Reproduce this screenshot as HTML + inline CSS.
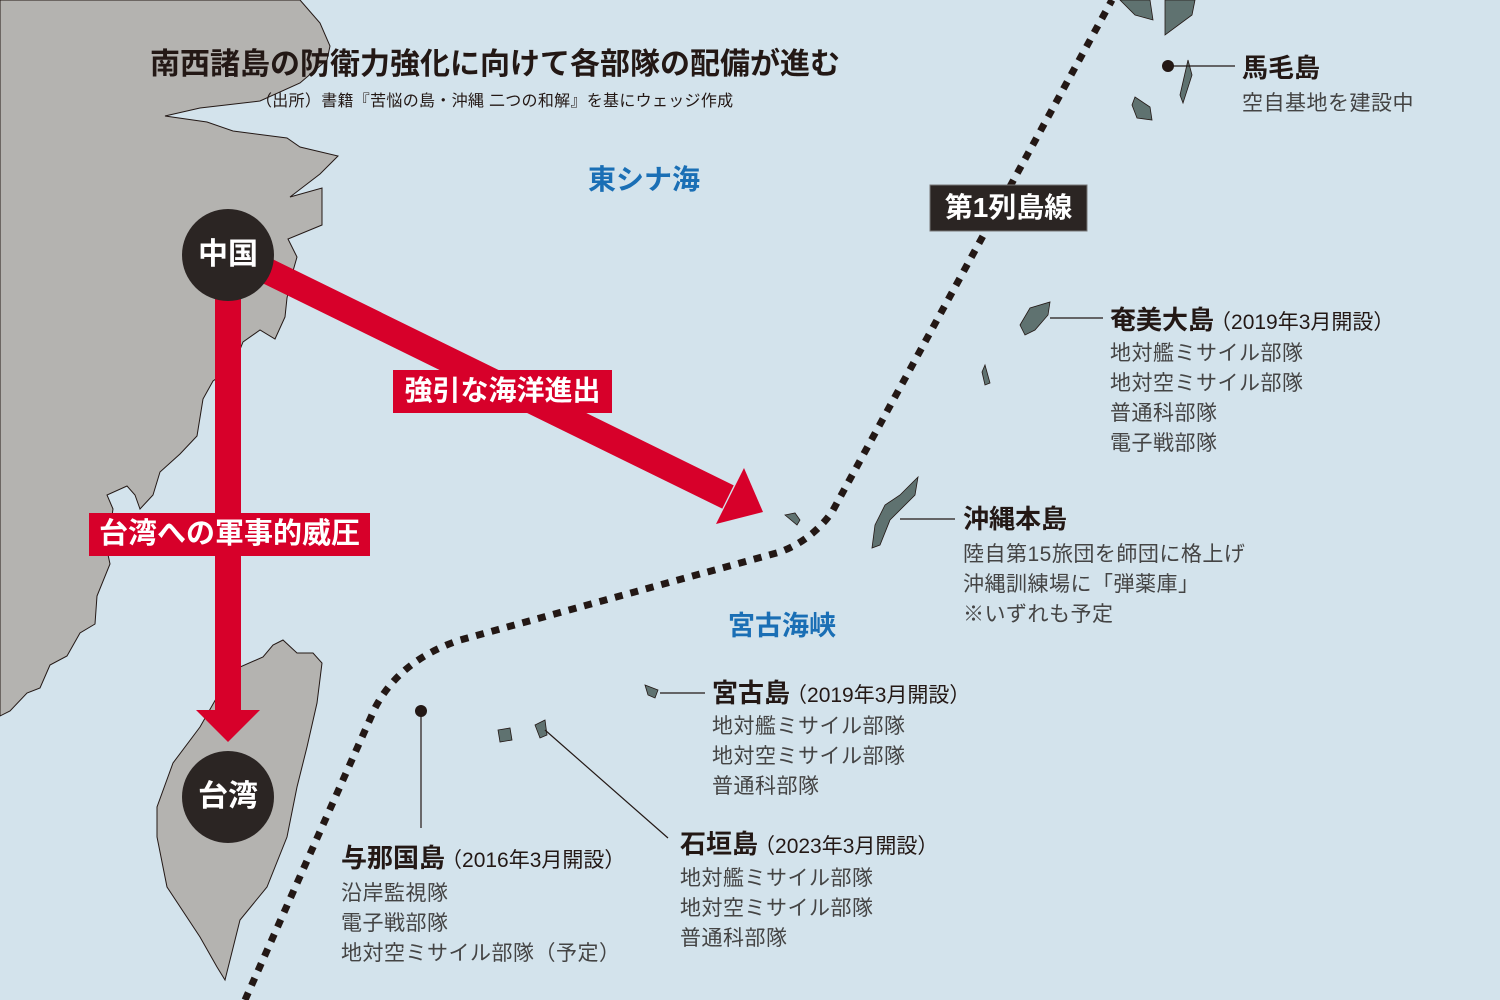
<!DOCTYPE html>
<html><head><meta charset="utf-8"><style>
html,body{margin:0;padding:0}
body{width:1500px;height:1000px;position:relative;overflow:hidden;background:#d3e3ec;font-family:"Liberation Sans","Noto Sans CJK JP",sans-serif;color:#231815}
.t{position:absolute;white-space:nowrap}
.h{font-size:26px;font-weight:bold;line-height:30px;color:#231815}
.h span{font-size:21px;font-weight:normal;margin-left:-4px}
.s{font-size:21px;letter-spacing:0.5px;line-height:30px;color:#444}
</style></head><body>
<svg width="1500" height="1000" style="position:absolute;left:0;top:0">
<polygon fill="#b4b3b0" stroke="#231815" stroke-width="1" points="0,0 300,0 320,23 330,46 327,60 300,83 260,101 200,108 165,116 207,122 233,131 287,138 300,147 338,156 320,174 290,197 322,188 322,225 288,239 297,257 293,271 287,298 285,317 275,339 260,330 243,342 233,367 213,381 203,399 197,436 180,454 160,472 153,495 140,509 135,495 127,486 107,495 113,509 107,550 110,564 97,596 95,624 80,633 67,656 50,665 40,688 27,693 10,711 0,716"/>
<polygon fill="#b4b3b0" stroke="#231815" stroke-width="1" points="283,640 273,645 263,657 240,667 217,697 200,727 173,763 157,807 157,837 167,887 200,937 217,967 225,980 240,920 267,887 287,837 297,787 307,747 317,703 322,663 313,653 297,653"/>
<g fill="#5f7270" stroke="#231815" stroke-width="0.8">
<polygon points="1120,0 1150,0 1153,20 1135,15"/>
<polygon points="1165,0 1195,0 1192,15 1165,35"/>
<polygon points="1188,60 1192,75 1183,103 1180,95"/>
<polygon points="1135,97 1150,107 1152,120 1137,118 1132,105"/>
<polygon points="1020,325 1030,308 1050,302 1048,315 1035,330 1025,335"/>
<polygon points="985,365 990,383 985,385 982,372"/>
<polygon points="918,477 915,495 890,520 880,545 872,548 875,525 885,505 900,495 912,483"/>
<polygon points="785,515 795,513 800,520 797,525"/>
<polygon points="645,685 658,690 655,698 648,695"/>
<polygon points="535,725 545,720 547,735 540,738"/>
<polygon points="498,730 510,728 512,740 500,742"/>
</g>
<g stroke="#231815" stroke-width="1.2" fill="none">
<line x1="1168" y1="66" x2="1235" y2="66"/>
<line x1="1050" y1="318" x2="1103" y2="318"/>
<line x1="900" y1="519" x2="955" y2="519"/>
<line x1="660" y1="693" x2="705" y2="693"/>
<line x1="545" y1="730" x2="668" y2="838"/>
<line x1="421" y1="711" x2="421" y2="828"/>
</g>
<circle cx="1168" cy="66" r="6" fill="#231815"/>
<circle cx="421" cy="711" r="6" fill="#231815"/>
<path d="M245,1000 L375,708 Q400,660 460,640 L780,552 Q812,540 832,512 L1112,0" fill="none" stroke="#231815" stroke-width="7" stroke-dasharray="8,8"/>
<line x1="228" y1="290" x2="228" y2="712" stroke="#d7002a" stroke-width="26"/>
<polygon points="196,710 260,710 228,742" fill="#d7002a"/>
<line x1="255" y1="265" x2="728" y2="497" stroke="#d7002a" stroke-width="26"/>
<polygon points="763,512 716,524 744,468" fill="#d7002a"/>
<circle cx="228" cy="255" r="46" fill="#2b2523"/>
<circle cx="228" cy="797" r="46" fill="#2b2523"/>
<rect x="930" y="185" width="157" height="46" fill="#2b2523" stroke="#777" stroke-width="1"/>
<rect x="393" y="370" width="219" height="43" fill="#d7002a"/>
<rect x="89" y="513" width="281" height="43" fill="#d7002a"/>
</svg>
<div class="t" style="left:150px;top:48px;font-size:30px;font-weight:bold;line-height:34px">南西諸島の防衛力強化に向けて各部隊の配備が進む</div>
<div class="t" style="left:256px;top:92px;font-size:16px;line-height:20px;letter-spacing:0.3px">（出所）書籍『苦悩の島・沖縄 二つの和解』を基にウェッジ作成</div>
<div class="t" style="left:588px;top:164px;font-size:28px;font-weight:bold;color:#1a6fb5;line-height:32px">東シナ海</div>
<div class="t" style="left:728px;top:610px;font-size:27px;font-weight:bold;color:#1a6fb5;line-height:32px">宮古海峡</div>
<div class="t" style="left:182px;top:237px;width:92px;text-align:center;font-size:30px;font-weight:bold;color:#fff;line-height:36px">中国</div>
<div class="t" style="left:182px;top:779px;width:92px;text-align:center;font-size:30px;font-weight:bold;color:#fff;line-height:36px">台湾</div>
<div class="t" style="left:930px;top:190px;width:157px;text-align:center;font-size:28px;font-weight:bold;color:#fff;line-height:36px">第1列島線</div>
<div class="t" style="left:393px;top:373px;width:219px;text-align:center;font-size:28px;font-weight:bold;color:#fff;line-height:36px">強引な海洋進出</div>
<div class="t" style="left:89px;top:516px;width:281px;text-align:center;font-size:29px;font-weight:bold;color:#fff;line-height:36px">台湾への軍事的威圧</div>

<div class="t h" style="left:1242px;top:53px">馬毛島</div>
<div class="t s" style="left:1242px;top:89px">空自基地を建設中</div>

<div class="t h" style="left:1110px;top:305px">奄美大島<span>（2019年3月開設）</span></div>
<div class="t s" style="left:1110px;top:339px">地対艦ミサイル部隊<br>地対空ミサイル部隊<br>普通科部隊<br>電子戦部隊</div>

<div class="t h" style="left:963px;top:504px">沖縄本島</div>
<div class="t s" style="left:963px;top:540px">陸自第15旅団を師団に格上げ<br>沖縄訓練場に「弾薬庫」<br>※いずれも予定</div>

<div class="t h" style="left:712px;top:678px">宮古島<span>（2019年3月開設）</span></div>
<div class="t s" style="left:712px;top:712px">地対艦ミサイル部隊<br>地対空ミサイル部隊<br>普通科部隊</div>

<div class="t h" style="left:680px;top:829px">石垣島<span>（2023年3月開設）</span></div>
<div class="t s" style="left:680px;top:864px">地対艦ミサイル部隊<br>地対空ミサイル部隊<br>普通科部隊</div>

<div class="t h" style="left:341px;top:843px">与那国島<span>（2016年3月開設）</span></div>
<div class="t s" style="left:341px;top:879px">沿岸監視隊<br>電子戦部隊<br>地対空ミサイル部隊（予定）</div>
</body></html>
